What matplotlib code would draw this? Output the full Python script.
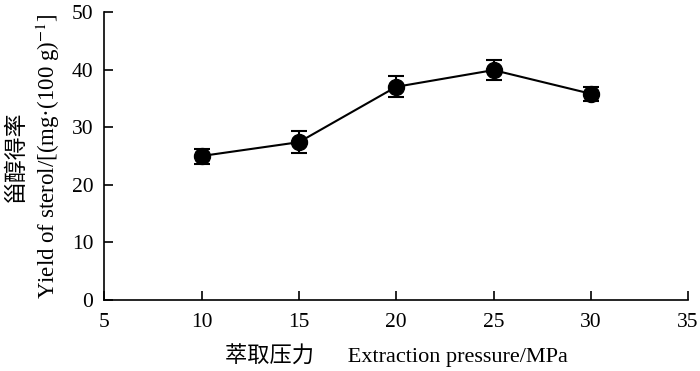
import matplotlib
matplotlib.use("Agg")
import matplotlib.pyplot as plt

pressure = [10, 15, 20, 25, 30]
yield_sterol = [25.0, 27.4, 37.0, 39.9, 35.8]
yield_err = [1.3, 1.95, 1.85, 1.7, 1.25]
xticks = [5, 10, 15, 20, 25, 30, 35]
yticks = [0, 10, 20, 30, 40, 50]

plt.rcParams['font.family'] = ['Liberation Serif', 'Noto Sans CJK SC']
plt.rcParams['mathtext.fontset'] = 'stix'

fig = plt.figure(figsize=(7, 3.71), dpi=100)
ax = fig.add_axes([0.149, 0.191, 0.834, 0.777])
ax.errorbar(pressure, yield_sterol, yerr=yield_err, color='black', lw=1.5,
            marker='o', markersize=11.5, elinewidth=1.5, capsize=6, capthick=1.5)
ax.set_xlim(5, 35)
ax.set_ylim(0, 50)
ax.set_xticks(xticks)
ax.set_yticks(yticks)
for s in ['top', 'right']:
    ax.spines[s].set_visible(False)
for s in ['left', 'bottom']:
    ax.spines[s].set_linewidth(1.2)
ax.tick_params(direction='in', length=6.5, width=1.2, labelsize=15.5)
ax.tick_params(axis='x', pad=9)
ax.tick_params(axis='y', pad=8)
ax.set_xlabel('萃取压力      Extraction pressure/MPa', fontsize=16, labelpad=8)
ax.set_ylabel('甾醇得率\nYield of sterol/[(mg·(100 g)$^{-1}$]', fontsize=16.5,
              linespacing=1.3)
ax.yaxis.set_label_coords(-0.073, 0.5)
fig.savefig('out.png', dpi=100)
